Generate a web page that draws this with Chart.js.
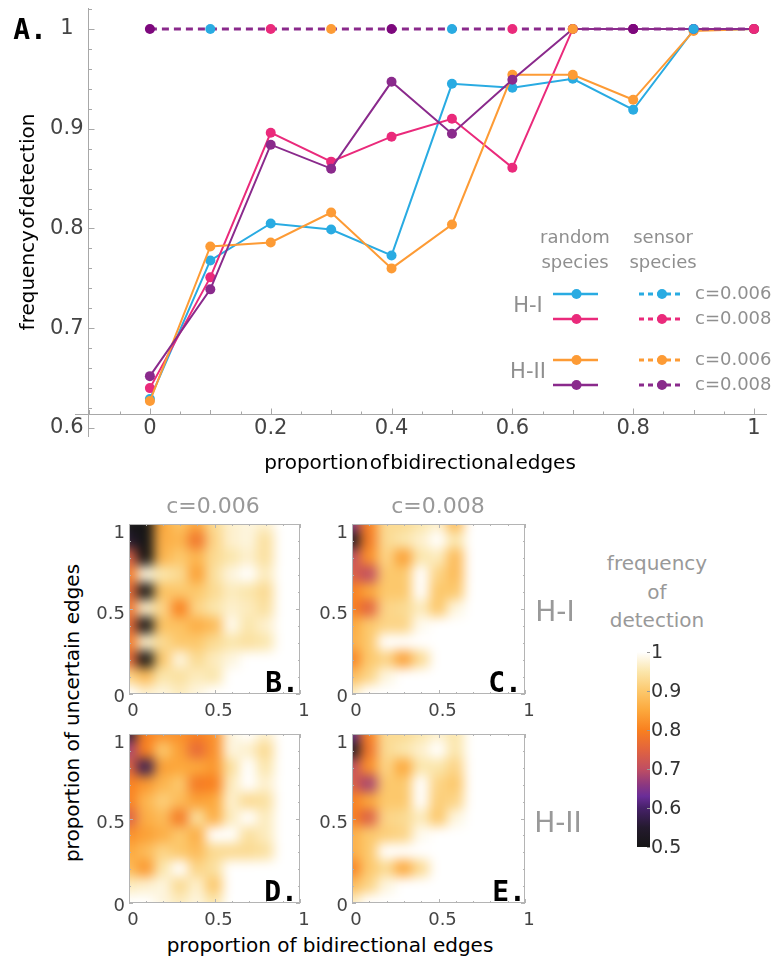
<!DOCTYPE html>
<html>
<head>
<meta charset="utf-8">
<script src="https://cdn.jsdelivr.net/npm/chart.js@4.4.1/dist/chart.umd.min.js"></script>
<style>
  body { margin: 0; background: #fff; width: 772px; height: 962px; position: relative; overflow: hidden; font-family: "DejaVu Sans", sans-serif; }
  canvas { position: absolute; }
  .t { position: absolute; white-space: nowrap; transform: translate(-50%, -50%); line-height: 1; }
  .gray { color: #999; }
  .letter { font-family: "DejaVu Sans Mono", monospace; font-weight: bold; font-size: 28px; color: #000; }
</style>
</head>
<body>
<canvas id="lineChart" width="772" height="480" style="left:0;top:0"></canvas>
<canvas id="panelB" width="241" height="215" style="left:84px;top:509px"></canvas>
<canvas id="panelC" width="243" height="215" style="left:307px;top:509px"></canvas>
<canvas id="panelD" width="241" height="214" style="left:84px;top:719px"></canvas>
<canvas id="panelE" width="243" height="214" style="left:307px;top:719px"></canvas>
<canvas id="colorBar" width="120" height="220" style="left:600px;top:640px"></canvas>

<div class="t letter" style="left:30px;top:30px">A.</div>
<div class="t" style="left:27px;top:222px;font-size:20px;word-spacing:-5px;transform:translate(-50%,-50%) rotate(-90deg)">frequency of detection</div>
<div class="t" style="left:420px;top:462px;font-size:20px;word-spacing:-5px">proportion of bidirectional edges</div>

<div class="t gray" style="left:213px;top:506px;font-size:22px">c=0.006</div>
<div class="t gray" style="left:438px;top:506px;font-size:22px">c=0.008</div>
<div class="t gray" style="left:555px;top:612px;font-size:28px">H-I</div>
<div class="t gray" style="left:558px;top:823px;font-size:28px">H-II</div>
<div class="t gray" style="left:657px;top:563px;font-size:20px">frequency</div>
<div class="t gray" style="left:657px;top:592px;font-size:20px">of</div>
<div class="t gray" style="left:657px;top:620px;font-size:20px">detection</div>

<div class="t letter" style="left:282px;top:683px">B.</div>
<div class="t letter" style="left:505px;top:683px">C.</div>
<div class="t letter" style="left:281px;top:892px">D.</div>
<div class="t letter" style="left:509px;top:892px">E.</div>

<div class="t" style="left:330px;top:945px;font-size:20px">proportion of bidirectional edges</div>
<div class="t" style="left:72px;top:713px;font-size:20px;transform:translate(-50%,-50%) rotate(-90deg)">proportion of uncertain edges</div>

<script>
// ---- panel A: line chart data ----
const bidirectional = [0, 0.1, 0.2, 0.3, 0.4, 0.5, 0.6, 0.7, 0.8, 0.9, 1];
const randomHI_c006 = [0.629, 0.768, 0.805, 0.799, 0.773, 0.945, 0.941, 0.950, 0.919, 0.999, 1];
const randomHI_c008 = [0.640, 0.751, 0.896, 0.867, 0.892, 0.910, 0.861, 1, 1, 1, 1];
const randomHII_c006 = [0.627, 0.782, 0.786, 0.816, 0.760, 0.804, 0.954, 0.954, 0.929, 0.998, 1];
const randomHII_c008 = [0.652, 0.739, 0.884, 0.860, 0.947, 0.895, 0.949, 1, 1, 1, 1];
const sensorHI_c006 = [1, 1, 1, 1, 1, 1, 1, 1, 1, 1, 1];
const sensorHI_c008 = [1, 1, 1, 1, 1, 1, 1, 1, 1, 1, 1];
const sensorHII_c006 = [1, 1, 1, 1, 1, 1, 1, 1, 1, 1, 1];
const sensorHII_c008 = [1, 1, 1, 1, 1, 1, 1, 1, 1, 1, 1];
const xTickLabels = [0, 0.2, 0.4, 0.6, 0.8, 1];
const yTickLabels = [0.6, 0.7, 0.8, 0.9, 1];

// ---- panels B-E: heatmap grids (rows from uncertain=1 down to 0) ----
const bidirGrid = [0, 0.1, 0.2, 0.3, 0.4, 0.5, 0.6, 0.7, 0.8, 0.9, 1];
const uncertainGrid = [1, 0.9, 0.8, 0.7, 0.6, 0.5, 0.4, 0.3, 0.2, 0.1, 0];
const gridTickLabels = [0, 0.5, 1];

const heatHI_c006 = [
  [0.50, 0.50, 0.85, 0.89, 0.85, 0.93, 0.97, 0.98, 0.97, 1, 1],
  [0.55, 0.50, 0.86, 0.87, 0.78, 0.92, 0.97, 0.98, 0.94, 1, 1],
  [0.74, 0.50, 0.87, 0.90, 0.87, 0.93, 0.95, 0.97, 0.94, 1, 1],
  [0.79, 0.98, 0.95, 0.93, 0.84, 0.94, 0.98, 1.00, 0.96, 1, 1],
  [0.76, 0.50, 0.89, 0.90, 0.90, 0.93, 0.96, 0.95, 0.93, 1, 1],
  [0.78, 0.97, 0.92, 0.80, 0.92, 0.95, 0.97, 0.96, 0.94, 1, 1],
  [0.76, 0.50, 0.89, 0.89, 0.86, 0.88, 0.99, 0.95, 0.97, 1, 1],
  [0.79, 0.97, 0.93, 0.90, 0.90, 0.93, 0.95, 0.94, 0.95, 1, 1],
  [0.76, 0.50, 0.90, 0.98, 0.93, 0.96, 0.98, 1, 1, 1, 1],
  [0.92, 0.88, 0.95, 0.94, 0.96, 0.95, 1, 1, 1, 1, 1],
  [1.00, 0.97, 0.98, 0.96, 0.98, 1, 1, 1, 1, 1, 1]
];
const heatHI_c008 = [
  [0.66, 0.80, 0.93, 0.93, 0.95, 0.97, 0.88, 1, 1, 1, 1],
  [0.52, 0.79, 0.93, 0.95, 0.97, 1.00, 0.95, 1, 1, 1, 1],
  [0.70, 0.82, 0.92, 0.84, 0.95, 0.96, 0.88, 1, 1, 1, 1],
  [0.74, 0.70, 0.90, 0.90, 1.00, 0.92, 0.88, 1, 1, 1, 1],
  [0.80, 0.85, 0.90, 0.90, 1.00, 0.90, 0.90, 1, 1, 1, 1],
  [0.80, 0.75, 0.92, 0.93, 0.96, 0.90, 0.98, 1, 1, 1, 1],
  [0.85, 0.90, 0.92, 0.92, 0.99, 1, 1, 1, 1, 1, 1],
  [0.86, 0.90, 1.00, 1.00, 1, 1, 1, 1, 1, 1, 1],
  [0.80, 0.90, 0.92, 0.84, 0.93, 1, 1, 1, 1, 1, 1],
  [0.88, 0.92, 0.98, 1, 1, 1, 1, 1, 1, 1, 1],
  [0.96, 1, 1, 1, 1, 1, 1, 1, 1, 1, 1]
];
const heatHII_c006 = [
  [0.56, 0.80, 0.82, 0.82, 0.80, 0.82, 0.98, 1.00, 0.97, 1, 1],
  [0.68, 0.80, 0.90, 0.84, 0.76, 0.82, 0.98, 0.97, 0.93, 1, 1],
  [0.75, 0.58, 0.84, 0.85, 0.85, 0.83, 0.94, 1.00, 0.95, 1, 1],
  [0.80, 0.83, 0.87, 0.90, 0.79, 0.80, 0.96, 1.00, 0.97, 1, 1],
  [0.80, 0.87, 0.91, 0.88, 0.84, 0.85, 0.97, 0.93, 0.94, 1, 1],
  [0.74, 0.86, 0.88, 0.79, 0.94, 0.86, 0.96, 1.00, 0.96, 1, 1],
  [0.82, 0.84, 0.86, 0.90, 0.86, 1.00, 1.00, 0.94, 0.96, 1, 1],
  [0.85, 0.88, 0.92, 0.90, 0.88, 0.93, 0.93, 0.93, 0.94, 1, 1],
  [0.88, 0.83, 0.95, 1.00, 0.92, 0.94, 1, 1, 1, 1, 1],
  [0.96, 0.97, 0.98, 0.93, 0.97, 0.90, 1, 1, 1, 1, 1],
  [1.00, 1.00, 0.98, 0.96, 0.98, 0.95, 1, 1, 1, 1, 1]
];
const heatHII_c008 = [
  [0.62, 0.80, 0.93, 0.93, 0.95, 0.97, 0.95, 1, 1, 1, 1],
  [0.52, 0.78, 0.93, 0.95, 0.97, 1.00, 0.95, 1, 1, 1, 1],
  [0.70, 0.82, 0.92, 0.85, 0.95, 0.95, 0.92, 1, 1, 1, 1],
  [0.74, 0.68, 0.90, 0.90, 1.00, 0.92, 0.90, 1, 1, 1, 1],
  [0.80, 0.85, 0.90, 0.90, 1.00, 0.91, 0.92, 1, 1, 1, 1],
  [0.80, 0.74, 0.92, 0.93, 0.96, 0.90, 0.98, 1, 1, 1, 1],
  [0.86, 0.90, 0.91, 0.92, 0.99, 1, 1, 1, 1, 1, 1],
  [0.86, 0.90, 1.00, 1.00, 1, 1, 1, 1, 1, 1, 1],
  [0.80, 0.90, 0.93, 0.85, 0.93, 1, 1, 1, 1, 1, 1],
  [0.88, 0.92, 0.98, 1, 1, 1, 1, 1, 1, 1, 1],
  [0.96, 1, 1, 1, 1, 1, 1, 1, 1, 1, 1]
];
const colorBarRange = [0.5, 1];
const colorBarTicks = [0.5, 0.6, 0.7, 0.8, 0.9, 1];

// colour map (sunset-like), value -> rgb
const colorStops = [
  [0.50, [21, 21, 21]], [0.55, [36, 26, 46]], [0.60, [70, 33, 105]], [0.63, [106, 45, 152]],
  [0.66, [140, 56, 128]], [0.70, [192, 78, 98]], [0.75, [226, 100, 62]], [0.80, [249, 128, 31]],
  [0.85, [252, 168, 60]], [0.90, [252, 200, 108]], [0.95, [251, 230, 172]], [1.00, [255, 255, 255]]
];
function colorFor(v) {
  if (v <= colorStops[0][0]) return 'rgb(' + colorStops[0][1].join(',') + ')';
  for (let i = 1; i < colorStops.length; i++) {
    const [v1, c1] = colorStops[i];
    if (v <= v1) {
      const [v0, c0] = colorStops[i - 1];
      const f = (v - v0) / (v1 - v0);
      return 'rgb(' + c0.map((c, k) => Math.round(c + (c1[k] - c) * f)).join(',') + ')';
    }
  }
  return 'rgb(255,255,255)';
}

const BLUE = '#29abe2', PINK = '#ea2a7b', ORANGE = '#fd9b35', PURPLE = '#8a2a8c', DARKPURPLE = '#7d087d';
const toXY = arr => arr.map((v, i) => ({ x: bidirectional[i], y: v }));

function solidSet(label, values, color, order) {
  return {
    label: label, data: toXY(values), borderColor: color, backgroundColor: color,
    pointBackgroundColor: color, pointBorderWidth: 0, pointRadius: 5, borderWidth: 2, order: order
  };
}
// the four sensor lines coincide at 1; only the purple one shows its dashes
function dashedSet(label, values, color, pointColor, slot, showLine, order) {
  return {
    label: label, data: toXY(values), borderColor: color, backgroundColor: color,
    pointBackgroundColor: pointColor, pointBorderWidth: 0, borderWidth: 3, borderDash: [7, 5],
    showLine: showLine, order: order,
    pointRadius: ctx => (ctx.dataIndex % 4 === slot ? 5 : 0)
  };
}

const axisA = {
  id: 'axisA',
  beforeDatasetsDraw(chart) {
    const { ctx, chartArea: a } = chart;
    const xs = chart.scales.x, ys = chart.scales.y;
    const ax = Math.round(xs.getPixelForValue(-0.1025)) + 0.5;
    const ay = Math.round(ys.getPixelForValue(0.614)) + 0.5;
    ctx.save();
    ctx.strokeStyle = '#a8a8a8';
    ctx.lineWidth = 1;
    ctx.beginPath();
    ctx.moveTo(a.left, ay); ctx.lineTo(a.right, ay);
    ctx.moveTo(ax, a.top); ctx.lineTo(ax, a.bottom);
    for (let k = -2; k <= 20; k++) {
      const px = Math.round(xs.getPixelForValue(k / 20)) + 0.5;
      const len = k % 4 === 0 ? 6 : (k % 2 === 0 ? 4.5 : 3);
      ctx.moveTo(px, ay); ctx.lineTo(px, ay - len);
    }
    for (let k = 30; k <= 51; k++) {
      const py = Math.round(ys.getPixelForValue(k / 50)) + 0.5;
      const len = k % 5 === 0 ? 6 : 3.5;
      ctx.moveTo(ax, py); ctx.lineTo(ax + len, py);
    }
    ctx.stroke();
    ctx.fillStyle = '#444';
    ctx.font = '21px "DejaVu Sans"';
    ctx.textAlign = 'center';
    ctx.textBaseline = 'middle';
    xTickLabels.forEach(v => ctx.fillText(String(v), xs.getPixelForValue(v), ay + 14));
    ctx.textAlign = 'right';
    yTickLabels.forEach(v => ctx.fillText(v === 1 ? '1' : v.toFixed(1), v === 1 ? ax - 15 : ax - 5, ys.getPixelForValue(v)));
    ctx.restore();
  }
};

const legendRows = [
  { y: 294, solid: 0, dashed: 4, label: 'c=0.006' },
  { y: 319, solid: 1, dashed: 5, label: 'c=0.008' },
  { y: 360, solid: 2, dashed: 6, label: 'c=0.006' },
  { y: 385, solid: 3, dashed: 7, label: 'c=0.008' }
];
function legendSample(ctx, x0, x1, y, color, width, dash) {
  ctx.save();
  ctx.strokeStyle = color; ctx.lineWidth = width; ctx.setLineDash(dash);
  ctx.beginPath(); ctx.moveTo(x0, y); ctx.lineTo(x1, y); ctx.stroke();
  ctx.fillStyle = color;
  ctx.beginPath(); ctx.arc((x0 + x1) / 2 + 1, y, 5, 0, Math.PI * 2); ctx.fill();
  ctx.restore();
}
const legendA = {
  id: 'legendA',
  afterDraw(chart) {
    const { ctx } = chart;
    const ds = chart.data.datasets;
    ctx.save();
    ctx.fillStyle = '#8f8f8f';
    ctx.textBaseline = 'middle';
    ctx.textAlign = 'center';
    ctx.font = '18px "DejaVu Sans"';
    ctx.fillText('random', 575, 238); ctx.fillText('species', 575, 263);
    ctx.fillText('sensor', 663, 238); ctx.fillText('species', 663, 263);
    ctx.font = '21px "DejaVu Sans"';
    ctx.fillText('H-I', 528, 307); ctx.fillText('H-II', 528, 373);
    ctx.font = '18px "DejaVu Sans"';
    ctx.textAlign = 'left';
    legendRows.forEach(r => {
      legendSample(ctx, 553, 598, r.y, ds[r.solid].borderColor, 2.5, []);
      legendSample(ctx, 639, 683, r.y, ds[r.dashed].borderColor, 3, [5, 4]);
      ctx.fillStyle = '#8f8f8f';
      ctx.fillText(r.label, 695, r.y);
    });
    ctx.restore();
  }
};

new Chart(document.getElementById('lineChart'), {
  type: 'line',
  data: {
    datasets: [
      solidSet('H-I random c=0.006', randomHI_c006, BLUE, 4),
      solidSet('H-I random c=0.008', randomHI_c008, PINK, 3),
      solidSet('H-II random c=0.006', randomHII_c006, ORANGE, 2),
      solidSet('H-II random c=0.008', randomHII_c008, PURPLE, 1),
      dashedSet('H-I sensor c=0.006', sensorHI_c006, BLUE, BLUE, 1, false, -2),
      dashedSet('H-I sensor c=0.008', sensorHI_c008, PINK, PINK, 2, false, -2),
      dashedSet('H-II sensor c=0.006', sensorHII_c006, ORANGE, ORANGE, 3, false, -2),
      dashedSet('H-II sensor c=0.008', sensorHII_c008, PURPLE, DARKPURPLE, 0, true, -1)
    ]
  },
  options: {
    responsive: false,
    animation: false,
    events: [],
    layout: { padding: { left: 75, right: 4, top: 8, bottom: 43 } },
    elements: { line: { tension: 0 } },
    plugins: { legend: { display: false }, tooltip: { enabled: false } },
    scales: {
      x: { type: 'linear', min: -0.124, max: 1.0215, display: false },
      y: { type: 'linear', min: 0.591, max: 1.021, display: false }
    }
  },
  plugins: [axisA, legendA]
});

// ---- heatmaps ----
const blurCells = {
  id: 'blurCells',
  afterDatasetsDraw(chart) {
    const { ctx, canvas, chartArea: a } = chart;
    const tmp = document.createElement('canvas');
    tmp.width = canvas.width; tmp.height = canvas.height;
    tmp.getContext('2d').drawImage(canvas, 0, 0);
    ctx.save();
    ctx.setTransform(1, 0, 0, 1, 0, 0);
    ctx.clearRect(0, 0, canvas.width, canvas.height);
    ctx.beginPath();
    ctx.rect(a.left, a.top, a.right - a.left, a.bottom - a.top);
    ctx.clip();
    ctx.filter = 'blur(6px)';
    ctx.drawImage(tmp, 0, 0);
    ctx.restore();
  }
};
const panelFrame = {
  id: 'panelFrame',
  afterDraw(chart) {
    const { ctx, chartArea: a } = chart;
    const xs = chart.scales.x, ys = chart.scales.y;
    ctx.save();
    ctx.strokeStyle = '#b4b4b4';
    ctx.lineWidth = 1;
    ctx.strokeRect(a.left + 0.5, a.top + 0.5, a.right - a.left - 1, a.bottom - a.top - 1);
    ctx.beginPath();
    bidirGrid.forEach((v, i) => {
      const px = Math.round(xs.getPixelForValue(v)) + 0.5, len = i % 5 === 0 ? 4 : 2;
      ctx.moveTo(px, a.bottom); ctx.lineTo(px, a.bottom - len);
      ctx.moveTo(px, a.top); ctx.lineTo(px, a.top + len);
    });
    uncertainGrid.forEach((v, i) => {
      const py = Math.round(ys.getPixelForValue(v)) + 0.5, len = i % 5 === 0 ? 4 : 2;
      ctx.moveTo(a.left, py); ctx.lineTo(a.left + len, py);
      ctx.moveTo(a.right, py); ctx.lineTo(a.right - len, py);
    });
    ctx.stroke();
    ctx.fillStyle = '#444';
    ctx.font = '18px "DejaVu Sans"';
    ctx.textBaseline = 'middle';
    ctx.textAlign = 'center';
    gridTickLabels.forEach(v => ctx.fillText(String(v), xs.getPixelForValue(v) + 4, a.bottom + 17));
    ctx.textAlign = 'right';
    gridTickLabels.forEach(v => ctx.fillText(String(v), a.left - 4, ys.getPixelForValue(v) + (v === 1 ? 9 : v === 0 ? 3 : 5)));
    ctx.restore();
  }
};

function makePanel(id, rows) {
  const cells = [];
  rows.forEach((row, r) => row.forEach((v, c) => cells.push({ x: bidirGrid[c], y: uncertainGrid[r], v: v })));
  return new Chart(document.getElementById(id), {
    type: 'scatter',
    data: {
      datasets: [{
        data: cells,
        clip: false,
        pointStyle: 'rect',
        pointBorderWidth: 0,
        pointRadius: ctx => {
          const s = ctx.chart.scales.x;
          return (Math.abs(s.getPixelForValue(0.1) - s.getPixelForValue(0)) + 1.5) / Math.SQRT2;
        },
        pointBackgroundColor: ctx => colorFor(ctx.raw.v)
      }]
    },
    options: {
      responsive: false,
      animation: false,
      events: [],
      layout: { padding: { left: 45, top: 15, right: 25, bottom: 30 } },
      plugins: { legend: { display: false }, tooltip: { enabled: false } },
      scales: {
        x: { type: 'linear', min: 0, max: 1, display: false },
        y: { type: 'linear', min: 0, max: 1, display: false }
      }
    },
    plugins: [blurCells, panelFrame]
  });
}
makePanel('panelB', heatHI_c006);
makePanel('panelC', heatHI_c008);
makePanel('panelD', heatHII_c006);
makePanel('panelE', heatHII_c008);

// ---- colour bar ----
const colorBarTicksPlugin = {
  id: 'colorBarTicks',
  afterDraw(chart) {
    const { ctx, chartArea: a } = chart;
    const ys = chart.scales.y;
    ctx.save();
    ctx.strokeStyle = '#999';
    ctx.fillStyle = '#333';
    ctx.font = '19px "DejaVu Sans"';
    ctx.textAlign = 'left';
    ctx.textBaseline = 'middle';
    ctx.beginPath();
    colorBarTicks.forEach(v => {
      const py = Math.round(ys.getPixelForValue(v)) + 0.5;
      ctx.moveTo(a.right - 3, py); ctx.lineTo(a.right, py);
      ctx.fillText(v === 1 ? '1' : v.toFixed(1), a.right + 1, py + 1);
    });
    ctx.stroke();
    ctx.restore();
  }
};
new Chart(document.getElementById('colorBar'), {
  type: 'bar',
  data: {
    labels: ['frequency of detection'],
    datasets: [{
      data: [colorBarRange],
      barPercentage: 1,
      categoryPercentage: 1,
      borderWidth: 0,
      backgroundColor: ctx => {
        const { chart } = ctx;
        if (!chart.chartArea) return '#fff';
        const ys = chart.scales.y;
        const g = chart.ctx.createLinearGradient(0, ys.getPixelForValue(0.5), 0, ys.getPixelForValue(1));
        colorStops.forEach(([v, c]) => g.addColorStop((v - 0.5) / 0.5, 'rgb(' + c.join(',') + ')'));
        return g;
      }
    }]
  },
  options: {
    responsive: false,
    animation: false,
    events: [],
    layout: { padding: { left: 37, top: 12, right: 70, bottom: 13 } },
    plugins: { legend: { display: false }, tooltip: { enabled: false } },
    scales: {
      x: { display: false },
      y: { min: 0.5, max: 1, display: false }
    }
  },
  plugins: [colorBarTicksPlugin]
});
</script>
</body>
</html>
